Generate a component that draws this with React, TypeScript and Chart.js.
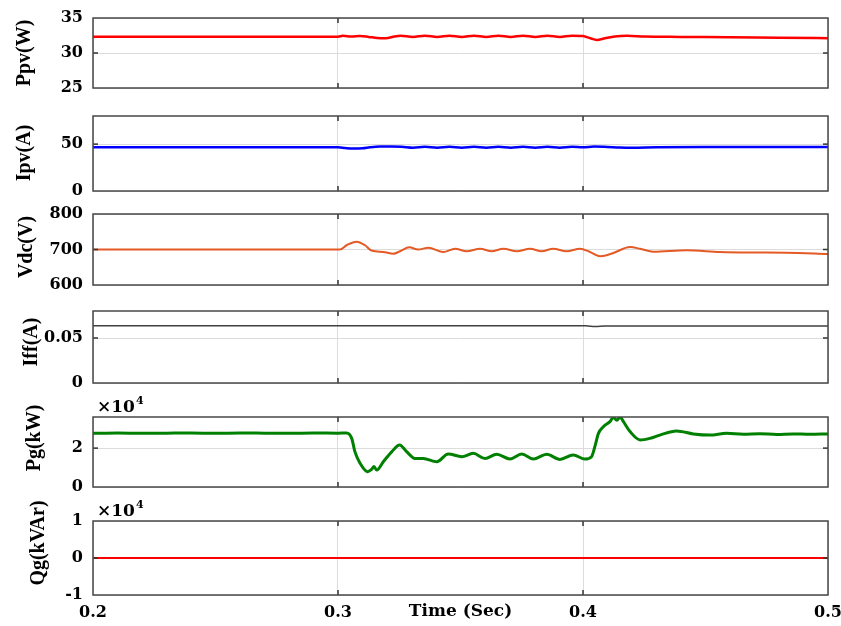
import React, { useEffect, useRef } from "react";
import { Chart, registerables } from "chart.js";

Chart.register(...registerables);

// ---------- data ----------
const xTicks = [0.2, 0.3, 0.4, 0.5];

const ppvTime = [0.2, 0.25, 0.3, 0.302, 0.3055, 0.309, 0.3125, 0.316, 0.3195, 0.323, 0.3255, 0.3305, 0.3355, 0.3405, 0.3455, 0.3505, 0.3555, 0.3605, 0.3655, 0.3705, 0.3755, 0.3805, 0.3855, 0.3905, 0.3955, 0.4, 0.403, 0.4056, 0.409, 0.413, 0.418, 0.425, 0.44, 0.46, 0.48, 0.5];
const ppvValues = [32.33, 32.33, 32.33, 32.45, 32.35, 32.42, 32.3, 32.15, 32.12, 32.35, 32.48, 32.3, 32.48, 32.3, 32.48, 32.3, 32.48, 32.3, 32.48, 32.3, 32.48, 32.3, 32.48, 32.3, 32.48, 32.42, 32.1, 31.86, 32.1, 32.35, 32.45, 32.35, 32.3, 32.25, 32.18, 32.12];
const ppvTicks = [25, 30, 35];

const ipvTime = [0.2, 0.3, 0.303, 0.306, 0.31, 0.313, 0.317, 0.322, 0.326, 0.3305, 0.3355, 0.3405, 0.3455, 0.3505, 0.3555, 0.3605, 0.3655, 0.3705, 0.3755, 0.3805, 0.3855, 0.3905, 0.3955, 0.4, 0.4045, 0.41, 0.415, 0.42, 0.43, 0.45, 0.5];
const ipvValues = [46.6, 46.6, 45.8, 45.3, 45.5, 46.6, 47.4, 47.4, 47.2, 46.2, 47.1, 46.2, 47.1, 46.2, 47.1, 46.2, 47.1, 46.2, 47.1, 46.2, 47.1, 46.2, 47.1, 46.6, 47.5, 47.0, 46.4, 46.2, 46.7, 46.9, 46.9];
const ipvTicks = [0, 50];

const vdcTime = [0.2, 0.25, 0.3, 0.3008, 0.3035, 0.3076, 0.311, 0.3137, 0.3185, 0.3226, 0.3253, 0.3291, 0.3327, 0.3369, 0.343, 0.3478, 0.3525, 0.358, 0.3627, 0.3675, 0.373, 0.3784, 0.3831, 0.3878, 0.3933, 0.3988, 0.4022, 0.4049, 0.407, 0.4097, 0.4124, 0.4192, 0.4233, 0.4287, 0.4423, 0.4559, 0.4695, 0.4831, 0.5];
const vdcValues = [700, 700, 700, 700, 712, 722, 712, 697, 693, 688, 695, 706, 700, 705, 693, 702, 695, 702, 695, 702, 695, 702, 695, 702, 695, 702, 695, 686, 681, 684, 690, 707, 702, 694, 698, 693, 691.5, 691, 687];
const vdcTicks = [600, 700, 800];

const iffTime = [0.2, 0.3, 0.35, 0.4, 0.402, 0.405, 0.409, 0.45, 0.5];
const iffValues = [0.0637, 0.0637, 0.0636, 0.0637, 0.0634, 0.0629, 0.0634, 0.0634, 0.0632];
const iffTicks = [0, 0.05];

const pgTime = [0.2, 0.21, 0.22, 0.23, 0.24, 0.25, 0.26, 0.27, 0.28, 0.29, 0.3, 0.3035, 0.3056, 0.3069, 0.309, 0.312, 0.3137, 0.3147, 0.3158, 0.3185, 0.322, 0.3251, 0.328, 0.3314, 0.3348, 0.3403, 0.345, 0.3505, 0.3552, 0.36, 0.3648, 0.3702, 0.375, 0.3797, 0.3852, 0.3906, 0.396, 0.4008, 0.4035, 0.4049, 0.4063, 0.4083, 0.411, 0.4124, 0.4138, 0.4151, 0.4165, 0.4192, 0.4233, 0.4273, 0.4314, 0.4382, 0.445, 0.4518, 0.4586, 0.4654, 0.4722, 0.479, 0.4858, 0.4926, 0.5];
const pgValues = [2.76, 2.78, 2.76, 2.77, 2.78, 2.76, 2.78, 2.77, 2.76, 2.78, 2.77, 2.78, 2.5, 1.82, 1.22, 0.79, 0.91, 1.05, 0.87, 1.3, 1.82, 2.16, 1.82, 1.47, 1.47, 1.3, 1.7, 1.56, 1.73, 1.47, 1.68, 1.44, 1.7, 1.44, 1.68, 1.42, 1.65, 1.44, 1.56, 2.1, 2.76, 3.1, 3.36, 3.58, 3.43, 3.6, 3.36, 2.85, 2.42, 2.5, 2.67, 2.88, 2.73, 2.67, 2.76, 2.71, 2.74, 2.7, 2.73, 2.71, 2.73];
const pgTicks = [0, 2];

const qgTime = [0.2, 0.5];
const qgValues = [0, 0];
const qgTicks = [-1, 0, 1];

// ---------- panel configuration (style/layout) ----------
const W = 841;
const H = 626;
const PLOT_LEFT = 93;
const PLOT_RIGHT = 828;
const X_AXIS_H = 30;

type PanelCfg = {
  title: string;
  time: number[];
  values: number[];
  ticks: number[];
  min: number;
  max: number;
  color: string;
  width: number;
  top: number;
  bottom: number;
  titleX: number;
  titleY: number;
  exponent?: boolean;
  bottomAxis?: boolean;
};

const panels: PanelCfg[] = [
  { title: "Ppv(W)", time: ppvTime, values: ppvValues, ticks: ppvTicks, min: 25, max: 35, color: "#ff0000", width: 2.5, top: 18, bottom: 88, titleX: 25, titleY: 53 },
  { title: "Ipv(A)", time: ipvTime, values: ipvValues, ticks: ipvTicks, min: 0, max: 80, color: "#0000ff", width: 2.5, top: 116, bottom: 191, titleX: 25, titleY: 153 },
  { title: "Vdc(V)", time: vdcTime, values: vdcValues, ticks: vdcTicks, min: 600, max: 800, color: "#e45a24", width: 2, top: 214, bottom: 285, titleX: 27, titleY: 247 },
  { title: "Iff(A)", time: iffTime, values: iffValues, ticks: iffTicks, min: 0, max: 0.08, color: "#404040", width: 1.5, top: 311, bottom: 383, titleX: 32, titleY: 342 },
  { title: "Pg(kW)", time: pgTime, values: pgValues, ticks: pgTicks, min: 0, max: 3.6, color: "#008000", width: 3, top: 417, bottom: 487, titleX: 35, titleY: 438, exponent: true },
  { title: "Qg(kVAr)", time: qgTime, values: qgValues, ticks: qgTicks, min: -1, max: 1, color: "#ff0000", width: 2, top: 521, bottom: 595, titleX: 39, titleY: 543, exponent: true, bottomAxis: true },
];

const TICK_FONT = { family: "'DejaVu Serif', serif", weight: "bold" as const, size: 16 };

const boxPlugin = {
  id: "matlabBox",
  afterDatasetsDraw(chart: any, _args: any, opts: any) {
    const { ctx, chartArea: a, scales } = chart;
    ctx.save();
    ctx.strokeStyle = "#333333";
    ctx.lineWidth = 1.5;
    const tl = 5;
    const line = (x1: number, y1: number, x2: number, y2: number) => {
      ctx.beginPath();
      ctx.moveTo(x1, y1);
      ctx.lineTo(x2, y2);
      ctx.stroke();
    };
    scales.x.ticks.forEach((t: any) => {
      const px = scales.x.getPixelForValue(t.value);
      if (px <= a.left + 1 || px >= a.right - 1) return;
      line(px, a.top, px, a.top + tl);
      line(px, a.bottom, px, a.bottom - tl);
    });
    scales.y.ticks.forEach((t: any) => {
      const py = scales.y.getPixelForValue(t.value);
      if (py <= a.top + 1 || py >= a.bottom - 1) return;
      line(a.left, py, a.left + tl, py);
      line(a.right, py, a.right - tl, py);
    });
    ctx.strokeStyle = "#474747";
    ctx.lineWidth = 1.5;
    ctx.strokeRect(a.left, a.top, a.right - a.left, a.bottom - a.top);

    // y-axis title (rotated)
    if (opts && opts.title) {
      ctx.save();
      ctx.translate(opts.titleX, opts.titleY);
      ctx.rotate(-Math.PI / 2);
      ctx.fillStyle = "#000";
      ctx.textAlign = "center";
      ctx.textBaseline = "middle";
      ctx.font = "bold 20px 'Liberation Serif', 'Times New Roman', serif";
      ctx.fillText(opts.title, 0, 0);
      ctx.restore();
    }

    // exponent label
    if (opts && opts.exponent) {
      ctx.fillStyle = "#000";
      ctx.textBaseline = "alphabetic";
      ctx.textAlign = "left";
      ctx.font = "bold 17px 'DejaVu Serif', serif";
      const base = a.top - 5;
      ctx.fillText("\u00d710", a.left + 4, base);
      const w = ctx.measureText("\u00d710").width;
      ctx.font = "bold 11px 'DejaVu Serif', serif";
      ctx.fillText("4", a.left + 5 + w, base - 8);
    }
    ctx.restore();
  },
};

function Panel({ cfg }: { cfg: PanelCfg }) {
  const ref = useRef<HTMLCanvasElement>(null);
  useEffect(() => {
    const isBottom = !!cfg.bottomAxis;
    const zeroPad = (s: any) => {
      s.paddingLeft = 0;
      s.paddingRight = 0;
      s.paddingTop = 0;
      s.paddingBottom = 0;
    };
    const chart = new Chart(ref.current as HTMLCanvasElement, {
      type: "line",
      data: {
        datasets: [
          {
            data: cfg.time.map((t, i) => ({ x: t, y: cfg.values[i] })),
            borderColor: cfg.color,
            borderWidth: cfg.width,
            pointRadius: 0,
            fill: false,
            cubicInterpolationMode: "monotone",
          },
        ],
      },
      options: {
        animation: false,
        responsive: false,
        devicePixelRatio: 1,
        events: [],
        layout: {
          padding: {
            left: 0,
            right: W - PLOT_RIGHT,
            top: cfg.top,
            bottom: H - cfg.bottom - (isBottom ? X_AXIS_H : 0),
          },
        },
        plugins: {
          legend: { display: false },
          tooltip: { enabled: false },
          matlabBox: {
            exponent: !!cfg.exponent,
            title: cfg.title,
            titleX: cfg.titleX,
            titleY: cfg.titleY,
          },
        } as any,
        scales: {
          x: {
            type: "linear",
            min: 0.2,
            max: 0.5,
            afterBuildTicks: (s: any) => {
              s.ticks = xTicks.map((v) => ({ value: v }));
            },
            afterFit: (s: any) => {
              s.height = isBottom ? X_AXIS_H : 0;
              zeroPad(s);
            },
            border: { display: false },
            grid: { color: "#dcdcdc", lineWidth: 1, drawTicks: false },
            ticks: {
              display: isBottom,
              font: TICK_FONT,
              color: "#000",
              padding: 8,
              maxRotation: 0,
              autoSkip: false,
              callback: (v: any) => String(v),
            },
            title: {
              display: isBottom,
              text: "Time (Sec)",
              font: { family: "'DejaVu Serif', serif", weight: "bold", size: 17, lineHeight: 1.2 },
              color: "#000",
              padding: { top: 0, bottom: 3 },
            },
          },
          y: {
            type: "linear",
            min: cfg.min,
            max: cfg.max,
            afterBuildTicks: (s: any) => {
              s.ticks = cfg.ticks.map((v) => ({ value: v }));
            },
            afterFit: (s: any) => {
              s.width = PLOT_LEFT;
              zeroPad(s);
            },
            border: { display: false },
            grid: { color: "#dcdcdc", lineWidth: 1, drawTicks: false },
            ticks: {
              font: TICK_FONT,
              color: "#000",
              padding: 10,
              callback: (v: any) => String(v),
            },
            title: { display: false },
          },
        },
      },
      plugins: [boxPlugin],
    } as any);
    return () => chart.destroy();
  }, [cfg]);
  return (
    <canvas
      ref={ref}
      width={W}
      height={H}
      style={{ position: "absolute", left: 0, top: 0, width: W, height: H }}
    />
  );
}

export default function App() {
  return (
    <div
      style={{
        position: "fixed",
        left: 0,
        top: 0,
        width: W,
        height: H,
        background: "#ffffff",
        overflow: "hidden",
      }}
    >
      {panels.map((p) => (
        <Panel key={p.title} cfg={p} />
      ))}
    </div>
  );
}
